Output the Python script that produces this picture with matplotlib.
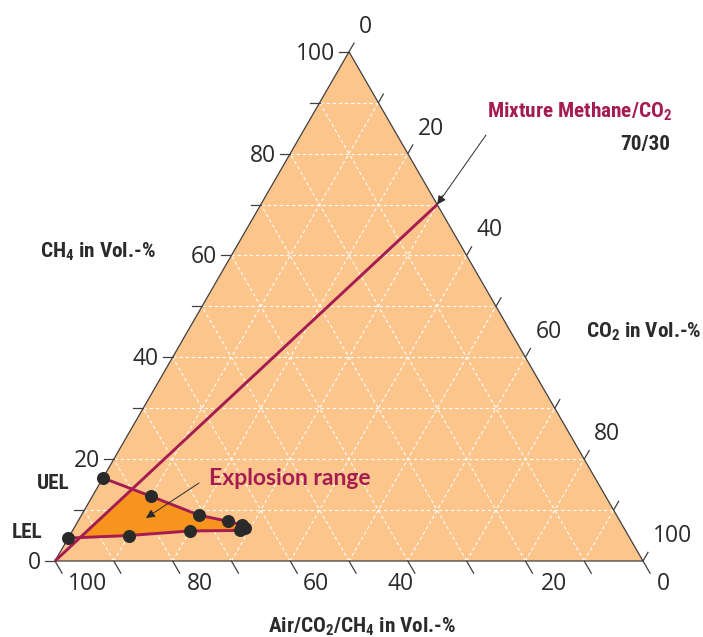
import numpy as np
import matplotlib
matplotlib.use("Agg")
import matplotlib.pyplot as plt
from matplotlib import font_manager as fm
from matplotlib.patches import Polygon

# ---------------- data ----------------
tick_values = [0, 10, 20, 30, 40, 50, 60, 70, 80, 90, 100]
ch4_labels = [0, 20, 40, 60, 80, 100]
co2_labels = [0, 20, 40, 60, 80, 100]
air_labels = [100, 80, 60, 40, 20, 0]
mixture_co2 = 30
mixture_ch4 = 70
# explosion-limit boundary (UEL on left edge -> nose -> LEL on left edge)
limit_co2 = [0, 10, 20, 25.5, 28.2, 29.1, 28.4, 20, 10, 0]
limit_ch4 = [16.3, 12.7, 9.0, 7.8, 7.1, 6.4, 6.0, 5.9, 5.0, 4.5]

# ---------------- style ----------------
BG = "#FCC58B"
FILL = "#F7941D"
CRIMSON = "#A51C52"
DARK = "#2b2b2b"
EDGE = "#404040"

installed = {f.name for f in fm.fontManager.ttflist}


def pick(*names):
    for n in names:
        if n in installed:
            return n
    return "DejaVu Sans"


COND = pick("Roboto Condensed", "Barlow Condensed", "Fira Sans Condensed", "Liberation Sans Narrow")
NUM = pick("Open Sans", "Lato", "Roboto")
LABEL = pick("Lato", "Open Sans", "Roboto")
plt.rcParams["mathtext.default"] = "regular"

W, H = 703, 637
S = 5.88          # pixels per data unit
X0, Y0 = 55, 561  # pixel position of the Air=100 vertex
SQ = np.sqrt(3) / 2

fig = plt.figure(figsize=(W / 100, H / 100), dpi=100)
ax = fig.add_axes([0, 0, 1, 1])
ax.set_xlim(-X0 / S, (W - X0) / S)
ax.set_ylim(-(H - Y0) / S, Y0 / S)
ax.axis("off")


def P(co2, ch4):
    return co2 + ch4 / 2.0, ch4 * SQ


def px(x, y):
    return (x - X0) / S, (Y0 - y) / S


# triangle
tri = np.array([P(0, 0), P(100, 0), P(0, 100)])
ax.add_patch(Polygon(tri, closed=True, facecolor=BG, edgecolor="none", zorder=1))

# grid
for v in tick_values[1:-1]:
    for a, b in [(P(0, v), P(100 - v, v)),
                 (P(v, 0), P(v, 100 - v)),
                 (P(100 - v, 0), P(0, 100 - v))]:
        ax.plot([a[0], b[0]], [a[1], b[1]], color="white", lw=0.8,
                ls=(0, (3, 2.5)), zorder=2)

ax.add_patch(Polygon(tri, closed=True, facecolor="none", edgecolor=EDGE, lw=0.9, zorder=3))

# ticks
L = 1.7
Lb = 2.4
for v in tick_values:
    x, y = P(0, v)
    ax.plot([x, x - L], [y, y], color=EDGE, lw=0.9, zorder=3)
    x, y = P(v, 100 - v)
    ax.plot([x, x + L * 0.5], [y, y + L * SQ], color=EDGE, lw=0.9, zorder=3)
    x, y = P(100 - v, 0)
    ax.plot([x, x + Lb * 0.5], [y, y - Lb * SQ], color=EDGE, lw=0.9, zorder=3)

# tick labels
num_kw = dict(fontsize=16.5, family=NUM, color=DARK)
for v in ch4_labels:
    x, y = P(0, v)
    ax.text(x - 14 / S, y - 8 / S, str(v), ha="right", va="baseline", **num_kw)
for v in co2_labels:
    x, y = P(v, 100 - v)
    ax.text(x + 10 / S, y + 19 / S, str(v), ha="left", va="baseline", **num_kw)
bottom_shift_px = {100: 13, 80: 14, 60: 13, 40: -20, 20: 15, 0: 14}
for v in air_labels:
    x, y = P(100 - v, 0)
    ax.text(x + bottom_shift_px[v] / S, y - 29 / S, str(v), ha="left", va="baseline", **num_kw)

# explosion range fill: part of boundary polygon on the CO2-rich side of the mixture line
poly = list(zip(limit_co2, limit_ch4))


def side(p):
    return p[0] * mixture_ch4 - p[1] * mixture_co2


clipped = []
n = len(poly)
for i in range(n):
    cur, nxt = poly[i], poly[(i + 1) % n]
    sc, sn = side(cur), side(nxt)
    if sc >= 0:
        clipped.append(cur)
    if (sc >= 0) != (sn >= 0):
        t = sc / (sc - sn)
        clipped.append((cur[0] + t * (nxt[0] - cur[0]), cur[1] + t * (nxt[1] - cur[1])))
fill_xy = np.array([P(a, b) for a, b in clipped])
ax.add_patch(Polygon(fill_xy, closed=True, facecolor=FILL, edgecolor="none", zorder=4))

# mixture line
m0, m1 = P(0, 0), P(mixture_co2, mixture_ch4)
ax.plot([m0[0], m1[0]], [m0[1], m1[1]], color=CRIMSON, lw=2.1, zorder=5, solid_capstyle="butt")

# limit line and points
lx = [P(a, b)[0] for a, b in poly]
ly = [P(a, b)[1] for a, b in poly]
ax.plot(lx, ly, color=CRIMSON, lw=2.1, zorder=5)
ax.scatter(lx, ly, s=88, color="#2a2a2a", zorder=6, linewidths=0)

# arrows
arrow_kw = dict(arrowstyle="-|>", color=DARK, lw=0.7, mutation_scale=13, shrinkA=0, shrinkB=0)
ax.annotate("", xy=m1, xytext=px(486, 135), arrowprops=arrow_kw, zorder=7)
ax.annotate("", xy=px(146, 518), xytext=px(199, 483), arrowprops=arrow_kw, zorder=7)

# text
cond_kw = dict(family=COND, fontweight="bold", fontsize=15.3, color=DARK, va="baseline", ha="left")
ax.text(*px(40, 258), "CH$_4$ in Vol.-%", **cond_kw)
ax.text(*px(586, 338), "CO$_2$ in Vol.-%", **cond_kw)
ax.text(*px(268, 633), "Air/CO$_2$/CH$_4$ in Vol.-%", **cond_kw)
ax.text(*px(37, 489), "UEL", **cond_kw)
ax.text(*px(12, 538), "LEL", **cond_kw)
ax.text(*px(487, 118), "Mixture Methane/CO$_2$", **{**cond_kw, "color": CRIMSON})
ax.text(*px(670, 150), "70/30", **{**cond_kw, "ha": "right"})
ax.text(*px(209, 485), "Explosion range", family=LABEL, fontweight="bold", fontsize=16.5,
        color=CRIMSON, va="baseline", ha="left")

fig.savefig("out.png", dpi=100)
